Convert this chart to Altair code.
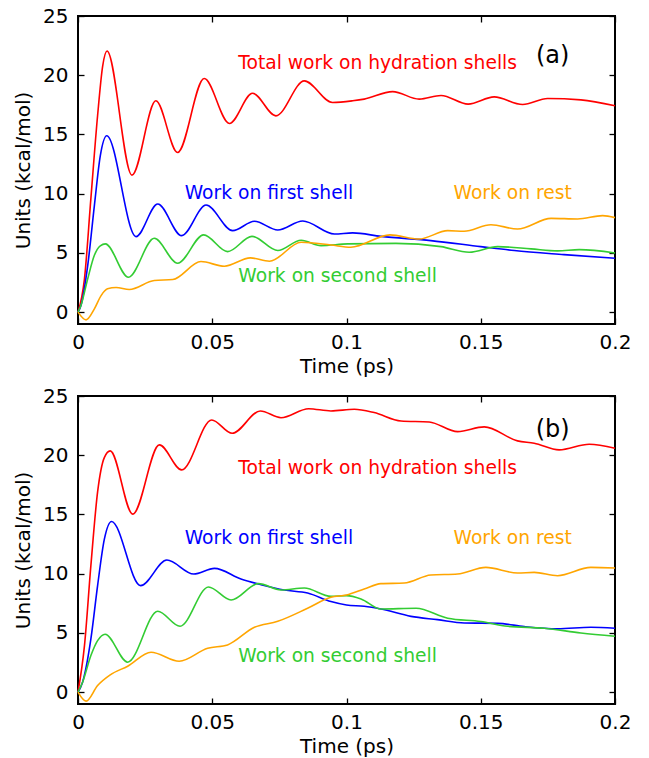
import altair as alt
import pandas as pd

# ---- shared axis ticks -------------------------------------------------------
X_TICKS = [0, 0.05, 0.1, 0.15, 0.2]
Y_TICKS = [0, 5, 10, 15, 20, 25]

SERIES = ["total", "first", "second", "rest"]
COLORS = ["#ff0000", "#0000ff", "#33cc33", "#ffa500"]

# ---- panel (a) ---------------------------------------------------------------
a_total_t = [0, 0.0024, 0.0048, 0.0073, 0.0092, 0.0108, 0.0201, 0.029, 0.0371, 0.047,
             0.0564, 0.065, 0.0737, 0.0843, 0.0948, 0.1023, 0.1066, 0.1172, 0.1271,
             0.1352, 0.1453, 0.155, 0.1656, 0.1749, 0.1873, 0.2]
a_total_v = [0, 2.8, 9.6, 16.6, 20.8, 22.05, 11.57, 17.84, 13.48, 19.72,
             15.93, 18.48, 16.57, 19.52, 17.7, 17.84, 17.98, 18.62, 17.98,
             18.29, 17.56, 18.17, 17.53, 18.03, 17.92, 17.42]

a_first_t = [0, 0.0011, 0.0036, 0.0061, 0.0083, 0.0107, 0.0216, 0.0297, 0.0386, 0.0477,
             0.0576, 0.0657, 0.0744, 0.0837, 0.0955, 0.1023, 0.1128, 0.1314, 0.15,
             0.1625, 0.181, 0.2]
a_first_v = [0, 0.56, 3.9, 9.0, 13.2, 14.89, 6.38, 9.13, 6.46, 9.04,
             6.88, 7.67, 6.94, 7.70, 6.60, 6.69, 6.40, 6.04, 5.53,
             5.20, 4.86, 4.55]

a_second_t = [0, 0.0011, 0.0036, 0.0061, 0.0083, 0.0102, 0.0188, 0.0284, 0.0371, 0.0468,
              0.0557, 0.0648, 0.0744, 0.0831, 0.0905, 0.1004, 0.1184, 0.1352, 0.1457,
              0.1563, 0.1687, 0.1786, 0.1867, 0.2]
a_second_v = [0, 0.56, 2.8, 4.8, 5.6, 5.76, 2.95, 6.24, 4.13, 6.52,
              5.11, 6.40, 5.20, 6.07, 5.62, 5.76, 5.81, 5.53, 5.06,
              5.53, 5.34, 5.17, 5.28, 5.0]

a_rest_t = [0, 0.003, 0.0061, 0.0086, 0.011, 0.0142, 0.0191, 0.0284, 0.0353, 0.0458,
            0.0545, 0.0642, 0.0713, 0.0831, 0.0942, 0.1016, 0.1162, 0.127, 0.1377,
            0.1438, 0.1538, 0.1637, 0.1762, 0.1861, 0.1954, 0.2]
a_rest_v = [0, -0.65, 0.28, 1.4, 1.97, 2.08, 1.91, 2.67, 2.75, 4.27,
            3.88, 4.58, 4.30, 5.90, 5.67, 5.48, 6.52, 6.17, 6.88,
            6.83, 7.38, 7.02, 7.92, 7.87, 8.15, 7.98]

# ---- panel (b) ---------------------------------------------------------------
b_total_t = [0, 0.0024, 0.0048, 0.0073, 0.0098, 0.012, 0.0204, 0.0303, 0.0386, 0.0498,
             0.0574, 0.0679, 0.0756, 0.0859, 0.0942, 0.1029, 0.1103, 0.1203, 0.1308,
             0.1414, 0.1513, 0.1637, 0.1699, 0.1792, 0.1904, 0.2]
b_total_v = [0, 3.9, 10.7, 16.9, 19.8, 20.37, 15.03, 20.87, 18.76, 22.98,
             21.85, 23.74, 23.17, 23.93, 23.74, 23.88, 23.6, 22.89, 22.81,
             21.99, 22.39, 21.21, 21.01, 20.45, 20.93, 20.59]

b_first_t = [0, 0.0017, 0.0048, 0.0073, 0.0098, 0.0125, 0.0233, 0.0331, 0.0431, 0.0508,
             0.0607, 0.0682, 0.0768, 0.0855, 0.0942, 0.1, 0.1066, 0.1128, 0.124,
             0.1339, 0.1439, 0.1563, 0.1662, 0.1786, 0.191, 0.2]
b_first_v = [0, 0.84, 4.5, 9.0, 12.9, 14.41, 8.99, 11.15, 9.97, 10.45,
             9.55, 9.07, 8.62, 8.37, 7.65, 7.36, 7.25, 7.02, 6.40,
             6.12, 5.84, 5.81, 5.53, 5.34, 5.48, 5.39]

b_second_t = [0, 0.0017, 0.0048, 0.0073, 0.0101, 0.0185, 0.0297, 0.038, 0.0486, 0.057,
              0.0672, 0.0756, 0.0843, 0.0942, 0.1, 0.1054, 0.1128, 0.1259, 0.1377,
              0.15, 0.16, 0.1737, 0.1873, 0.2]
b_second_v = [0, 0.84, 3.09, 4.35, 4.89, 2.53, 6.83, 5.56, 8.88, 7.78,
              9.16, 8.62, 8.79, 8.09, 8.15, 7.87, 7.02, 7.08, 6.24,
              5.96, 5.56, 5.39, 5.0, 4.72]

b_rest_t = [0, 0.003, 0.0073, 0.012, 0.0185, 0.0272, 0.0377, 0.0483, 0.0557, 0.0657,
            0.0744, 0.0855, 0.0942, 0.1, 0.1066, 0.1128, 0.1215, 0.1314, 0.1414,
            0.1519, 0.1637, 0.1699, 0.1786, 0.191, 0.2]
b_rest_v = [0, -0.76, 0.56, 1.46, 2.19, 3.37, 2.61, 3.71, 3.99, 5.48,
            5.98, 7.08, 8.01, 8.2, 8.71, 9.16, 9.21, 9.89, 9.97,
            10.53, 10.06, 10.11, 9.83, 10.53, 10.48]

# ---- annotations (label, series, t, value) -----------------------------------
NOTE_LABELS = ["Total work on hydration shells", "Work on first shell",
               "Work on second shell", "Work on rest"]
a_note_t = [0.1116, 0.0711, 0.0967, 0.1619]
a_note_v = [21.0, 10.05, 3.06, 10.05]
b_note_t = [0.1116, 0.0711, 0.0967, 0.1619]
b_note_v = [18.9, 13.0, 3.02, 13.0]

W, H = 537, 308
FONT = "DejaVu Sans"


def long_table(curves):
    rows = []
    for name, (ts, vs) in zip(SERIES, curves):
        for t, v in zip(ts, vs):
            rows.append({"t": t, "v": v, "series": name})
    return pd.DataFrame(rows)


def panel(curves, note_t, note_v, tag, tag_t, tag_v):
    xs = alt.Scale(domain=[0, 0.2], nice=False, zero=False)
    ys = alt.Scale(domain=[-1, 25], nice=False, zero=False)
    color = alt.Color("series:N", scale=alt.Scale(domain=SERIES, range=COLORS), legend=None)

    lines = alt.Chart(long_table(curves)).mark_line(
        strokeWidth=1.6, interpolate="monotone"
    ).encode(
        x=alt.X("t:Q", scale=xs, axis=alt.Axis(
            orient="bottom", values=X_TICKS, format="~g", title="Time (ps)",
            ticks=False, tickSize=0, domain=False, grid=False, labelFlush=False,
            labelPadding=8, titlePadding=4)),
        y=alt.Y("v:Q", scale=ys, axis=alt.Axis(
            orient="left", values=Y_TICKS, title="Units (kcal/mol)",
            ticks=False, tickSize=0, domain=False, grid=False,
            labelPadding=10, titlePadding=9)),
        color=color,
    )

    notes = pd.DataFrame({"label": NOTE_LABELS, "series": SERIES, "t": note_t, "v": note_v})
    text = alt.Chart(notes).mark_text(
        font=FONT, fontSize=18.7, align="center", baseline="middle"
    ).encode(
        # inward ticks along the bottom and left edges
        x=alt.X("t:Q", scale=xs, axis=alt.Axis(
            orient="top", offset=-H, values=X_TICKS, labels=False, domain=False,
            grid=False, tickSize=6, tickWidth=1.3, title=None)),
        y=alt.Y("v:Q", scale=ys, axis=alt.Axis(
            orient="right", offset=-W, values=Y_TICKS, labels=False, domain=False,
            grid=False, tickSize=6, tickWidth=1.3, title=None)),
        text="label:N",
        color=color,
    )

    tag_df = pd.DataFrame({"label": [tag], "t": [tag_t], "v": [tag_v]})
    tag_mark = alt.Chart(tag_df).mark_text(
        font=FONT, fontSize=24, align="center", baseline="middle", color="black"
    ).encode(
        # inward ticks along the top and right edges
        x=alt.X("t:Q", scale=xs, axis=alt.Axis(
            orient="bottom", offset=-H, values=X_TICKS, labels=False, domain=False,
            grid=False, tickSize=6, tickWidth=1.3, title=None)),
        y=alt.Y("v:Q", scale=ys, axis=alt.Axis(
            orient="left", offset=-W, values=Y_TICKS, labels=False, domain=False,
            grid=False, tickSize=6, tickWidth=1.3, title=None)),
        text="label:N",
    )

    return alt.layer(lines, text, tag_mark).properties(width=W, height=H)


panel_a = panel(
    [(a_total_t, a_total_v), (a_first_t, a_first_v), (a_second_t, a_second_v), (a_rest_t, a_rest_v)],
    a_note_t, a_note_v, "(a)", 0.1768, 21.6,
)
panel_b = panel(
    [(b_total_t, b_total_v), (b_first_t, b_first_v), (b_second_t, b_second_v), (b_rest_t, b_rest_v)],
    b_note_t, b_note_v, "(b)", 0.1768, 22.1,
)

chart = alt.vconcat(panel_a, panel_b, spacing=72, bounds="flush").properties(
    padding={"left": 12, "top": 5, "right": 5, "bottom": 5},
).configure_view(
    stroke="black", strokeWidth=2
).configure_axis(
    labelFont=FONT, labelFontSize=20, labelColor="black",
    titleFont=FONT, titleFontSize=20, titleFontWeight="normal", titleColor="black",
    tickColor="black",
)

chart.save("out.html", embed_options={"renderer": "svg", "actions": False})
